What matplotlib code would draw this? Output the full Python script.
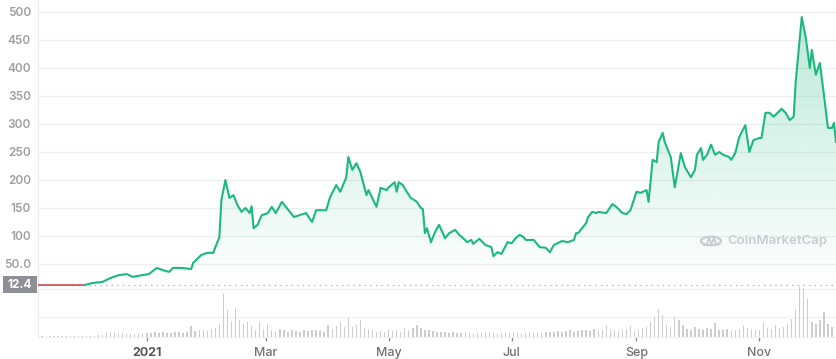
#!/usr/bin/env python3
"""Price chart with volume bars, CoinMarketCap style."""
import numpy as np
import pandas as pd
import matplotlib
matplotlib.use("Agg")
import matplotlib.pyplot as plt
import matplotlib.dates as mdates
from matplotlib.colors import to_rgb
from matplotlib.patches import Rectangle, Circle
from matplotlib.lines import Line2D

plt.rcParams['font.family'] = ['Inter', 'DejaVu Sans']

# price readings (USD)
price_dates = [
    "2020-11-08", "2020-11-19", "2020-12-01", "2020-12-05", "2020-12-10", "2020-12-14", "2020-12-18", "2020-12-22", "2020-12-25", "2020-12-28",
    "2021-01-02", "2021-01-06", "2021-01-09", "2021-01-12", "2021-01-14", "2021-01-18", "2021-01-23", "2021-01-24", "2021-01-28", "2021-01-31",
    "2021-02-03", "2021-02-04", "2021-02-06", "2021-02-07", "2021-02-09", "2021-02-11", "2021-02-13", "2021-02-15", "2021-02-17", "2021-02-19",
    "2021-02-21", "2021-02-22", "2021-02-23", "2021-02-25", "2021-02-27", "2021-03-02", "2021-03-04", "2021-03-06", "2021-03-09", "2021-03-11",
    "2021-03-15", "2021-03-21", "2021-03-24", "2021-03-26", "2021-03-31", "2021-04-02", "2021-04-05", "2021-04-07", "2021-04-10", "2021-04-11",
    "2021-04-13", "2021-04-15", "2021-04-17", "2021-04-20", "2021-04-21", "2021-04-25", "2021-04-27", "2021-04-30", "2021-05-01", "2021-05-04",
    "2021-05-05", "2021-05-06", "2021-05-08", "2021-05-10", "2021-05-12", "2021-05-15", "2021-05-17", "2021-05-18", "2021-05-19", "2021-05-20",
    "2021-05-22", "2021-05-24", "2021-05-26", "2021-05-29", "2021-05-31", "2021-06-03", "2021-06-05", "2021-06-07", "2021-06-09", "2021-06-11",
    "2021-06-12", "2021-06-15", "2021-06-18", "2021-06-21", "2021-06-22", "2021-06-24", "2021-06-26", "2021-06-29", "2021-07-01", "2021-07-03",
    "2021-07-05", "2021-07-07", "2021-07-08", "2021-07-12", "2021-07-15", "2021-07-18", "2021-07-20", "2021-07-22", "2021-07-26", "2021-07-29",
    "2021-08-01", "2021-08-02", "2021-08-03", "2021-08-07", "2021-08-08", "2021-08-10", "2021-08-12", "2021-08-13", "2021-08-17", "2021-08-20",
    "2021-08-22", "2021-08-25", "2021-08-27", "2021-08-29", "2021-09-01", "2021-09-03", "2021-09-06", "2021-09-07", "2021-09-09", "2021-09-11",
    "2021-09-12", "2021-09-14", "2021-09-15", "2021-09-17", "2021-09-18", "2021-09-20", "2021-09-23", "2021-09-25", "2021-09-28", "2021-09-30",
    "2021-10-01", "2021-10-03", "2021-10-04", "2021-10-06", "2021-10-08", "2021-10-10", "2021-10-12", "2021-10-14", "2021-10-17", "2021-10-18",
    "2021-10-20", "2021-10-22", "2021-10-25", "2021-10-27", "2021-10-29", "2021-11-01", "2021-11-02", "2021-11-04", "2021-11-06", "2021-11-08",
    "2021-11-10", "2021-11-12", "2021-11-14", "2021-11-16", "2021-11-18", "2021-11-19", "2021-11-22", "2021-11-24", "2021-11-26", "2021-11-27",
    "2021-11-29", "2021-12-01", "2021-12-03", "2021-12-05", "2021-12-07", "2021-12-08", "2021-12-09",
]
price_values = [
    12.4, 12.4, 12.4, 16, 18, 25, 30, 32, 27, 29,
    32, 43, 39, 36, 43, 43, 41, 52, 66, 70,
    70, 80, 98, 164, 200, 168, 173, 155, 143, 150,
    141, 153, 114, 120, 137, 141, 152, 141, 161, 152,
    134, 141, 125, 146, 146, 170, 191, 179, 205, 241,
    218, 230, 214, 173, 182, 152, 186, 182, 187, 196,
    179, 196, 191, 179, 168, 161, 150, 148, 105, 114,
    89, 107, 120, 96, 105, 111, 102, 96, 89, 93,
    86, 95, 84, 80, 64, 71, 68, 89, 87, 96,
    102, 98, 93, 93, 80, 79, 71, 84, 91, 89,
    93, 105, 105, 123, 134, 143, 141, 143, 141, 157,
    152, 141, 139, 146, 179, 177, 182, 161, 236, 232,
    268, 284, 268, 250, 241, 187, 248, 223, 205, 218,
    245, 257, 236, 245, 263, 245, 250, 245, 241, 236,
    248, 277, 298, 250, 271, 275, 275, 320, 320, 313,
    320, 327, 320, 307, 313, 375, 491, 454, 400, 432,
    388, 409, 352, 293, 293, 302, 268,
]
base_price = 12.4

# volume bars, one every 2 days from the start (relative units)
volume_start = "2020-11-08"
volume_values = [
    2, 2, 1, 3, 2, 2, 3, 2, 3, 3, 2, 3, 4, 3, 4, 5,
    6, 14, 16, 15, 10, 12, 9,
    10, 8, 9, 11, 13, 12, 14, 12, 15, 13, 12, 16, 14, 13, 15,
    33,
    18, 20, 22, 17, 24, 26,
    40, 130, 80, 48, 87, 50, 38, 45, 32, 22, 45, 25, 40, 22,
    18, 25, 20, 16, 22, 18, 15, 20, 17, 22, 20, 18, 15,
    35, 25, 32, 45, 30, 58, 30, 37, 50, 27, 25, 22, 15,
    18, 15, 20, 17, 22, 16, 27, 20, 27, 37, 28, 22, 20,
    18, 15, 16, 14, 12, 15, 13, 11, 14, 12, 10, 13, 12,
    14, 16, 12, 10, 11, 13, 12, 15, 11, 10, 12, 14, 11, 12, 13,
    14, 16, 15, 18, 15, 17, 20, 16, 18, 22, 20, 18, 25, 19, 22, 35, 24,
    20, 18, 22, 25, 33,
    18, 22, 27, 30, 45, 60, 85, 65, 37, 30, 60, 50, 35, 25,
    22, 30, 25, 20, 28, 24, 43, 20, 22, 25, 18, 20, 24, 33, 28, 25, 20, 22,
    43, 28, 25, 35, 28, 30, 38, 55, 80, 150, 148, 115, 45, 40, 50, 75, 40, 30,
]

ytick_values = [50, 100, 150, 200, 250, 300, 350, 400, 450, 500]
ytick_labels = ["50.0", "100", "150", "200", "250", "300", "350", "400", "450", "500"]
xtick_dates = ["2021-01-01", "2021-03-01", "2021-05-01", "2021-07-01", "2021-09-01", "2021-11-01"]
xtick_labels = ["2021", "Mar", "May", "Jul", "Sep", "Nov"]

GREEN = "#1db87f"
RED = "#cf4a4f"

dates = pd.to_datetime(price_dates)
prices = np.array(price_values, dtype=float)
vol_dates = pd.date_range(volume_start, periods=len(volume_values), freq="2D")

W, H = 836, 359
def box(x0, y0, x1, y1):
    return [x0 / W, 1 - y1 / H, (x1 - x0) / W, (y1 - y0) / H]

fig = plt.figure(figsize=(W / 100, H / 100), dpi=100)
ax = fig.add_axes(box(38, 0, 836, 292))
axv = fig.add_axes(box(38, 287, 836, 337), sharex=ax)
axv.patch.set_alpha(0)

# price line: red while at the start price, green after
n_red = 3
ax.plot(dates[:n_red], prices[:n_red], color=RED, lw=1.2, zorder=4)
ax.plot(dates[n_red - 1:], prices[n_red - 1:], color=GREEN, lw=1.5, zorder=4,
        solid_joinstyle="round")

# gradient fill under the line
poly = ax.fill_between(dates, prices, base_price, color="none", lw=0)
grad = np.zeros((256, 1, 4))
grad[..., :3] = to_rgb(GREEN)
grad[..., 3] = np.linspace(0.30, 0.0, 256)[:, None]
x0, x1 = mdates.date2num(dates[0]), mdates.date2num(dates[-1])
img = ax.imshow(grad, aspect="auto", extent=[x0, x1, base_price, prices.max()],
                origin="upper", zorder=2, interpolation="bilinear")
img.set_clip_path(poly.get_paths()[0], transform=ax.transData)

ax.axhline(base_price, color="#a8a8a8", lw=0.9, ls=(0, (1, 3.5)), zorder=3)

ax.set_xlim(dates[0], dates[-1])
ax.set_ylim(0, 521.4)
ax.set_yticks(ytick_values)
ax.set_yticklabels(ytick_labels)
ax.grid(axis="y", color="#efefef", lw=0.9)
ax.set_axisbelow(True)
for s in ["top", "right", "bottom"]:
    ax.spines[s].set_visible(False)
ax.spines["left"].set_color("#ececec")
ax.tick_params(axis="y", length=0, pad=5, labelsize=8.5, labelcolor="#a0a0a0")
for lbl in ax.get_yticklabels():
    lbl.set_fontweight("semibold")
ax.tick_params(axis="x", bottom=False, labelbottom=False)

# volume bars
axv.bar(vol_dates, volume_values, width=0.7, color="#cdcdcd", zorder=2)
axv.set_ylim(0, 150)
axv.set_yticks([60, 144])
axv.grid(axis="y", color="#f0f0f0", lw=0.9)
axv.set_axisbelow(True)
axv.tick_params(axis="y", left=False, labelleft=False)
for s in ["top", "right"]:
    axv.spines[s].set_visible(False)
axv.spines["left"].set_color("#ececec")
axv.spines["bottom"].set_color("#f0f0f0")
axv.set_xticks(pd.to_datetime(xtick_dates))
axv.set_xticklabels(xtick_labels)
axv.tick_params(axis="x", length=3, width=1, color="#8a8a8a", pad=4,
                labelsize=9, labelcolor="#707070")
first = axv.get_xticklabels()[0]
first.set_fontweight("bold")
first.set_color("#555555")
for lbl in axv.get_xticklabels()[1:]:
    lbl.set_fontweight("medium")

# start price tag
fig.patches.append(Rectangle((3 / W, 1 - 293 / H), 34 / W, 17 / H, transform=fig.transFigure,
                             facecolor="#8e8e96", edgecolor="none"))
fig.text(20 / W, 1 - 284.5 / H, "12.4", color="white", fontsize=8.5, fontweight="bold",
         ha="center", va="center")

# watermark
wm = "#c9ccd1"
fig.patches.append(Circle((711 / W, 1 - 241 / H), 10 / W, transform=fig.transFigure,
                          facecolor="none", edgecolor=wm, lw=1.6))
mx = np.array([704, 706.5, 709, 711.5, 714, 716.5, 719]) / W
my = 1 - np.array([245, 245, 238, 244, 238, 245, 244]) / H
fig.lines.append(Line2D(mx, my, transform=fig.transFigure, color=wm, lw=1.3))
fig.text(727 / W, 1 - 241 / H, "CoinMarketCap", color=wm, fontsize=9.5,
         fontweight="semibold", ha="left", va="center")

fig.savefig("out.png", dpi=100)
